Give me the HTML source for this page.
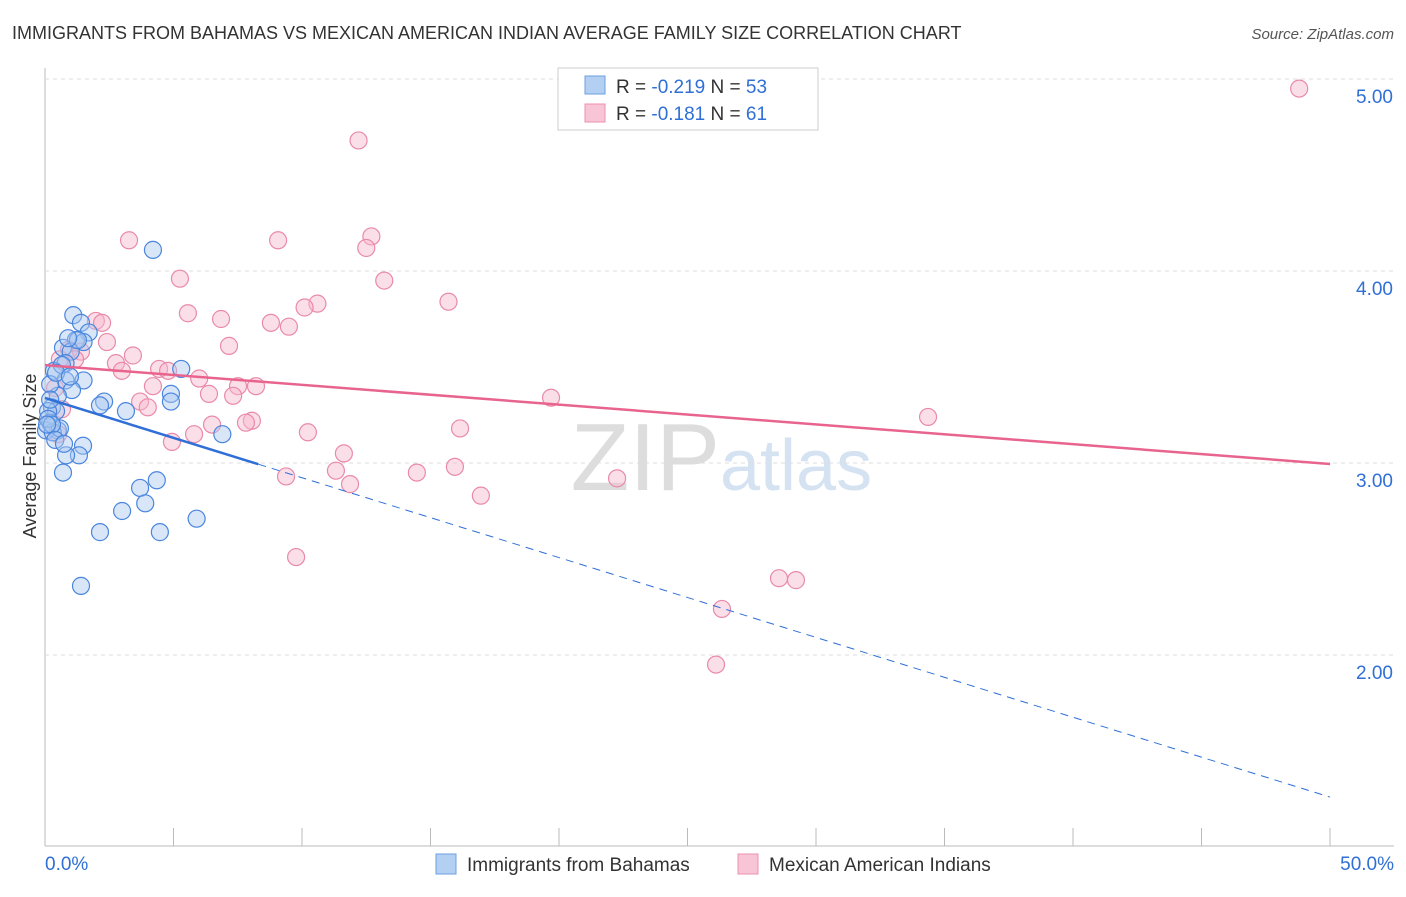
<!DOCTYPE html>
<html><head><meta charset="utf-8"><style>
body{margin:0;background:#fff;font-family:"Liberation Sans",sans-serif}
svg text{font-family:"Liberation Sans",sans-serif}
</style></head><body>
<svg id="c" width="1406" height="892">
<text x="12" y="39" font-size="18" fill="#333">IMMIGRANTS FROM BAHAMAS VS MEXICAN AMERICAN INDIAN AVERAGE FAMILY SIZE CORRELATION CHART</text>
<text x="1394" y="39" font-size="15" fill="#555" font-style="italic" text-anchor="end">Source: ZipAtlas.com</text>
<text x="36" y="456" font-size="18" fill="#333" text-anchor="middle" transform="rotate(-90 36 456)">Average Family Size</text>
<text x="720" y="490" font-size="96" fill="#ddd" text-anchor="end" font-family="Liberation Serif">ZIP</text>
<text x="720" y="490" font-size="72" fill="#d4e2f2">atlas</text>
<g id="grid"></g><g id="pts"></g><g id="lines"></g>
<g>
<rect x="558" y="68" width="260" height="62" fill="#fff" stroke="#ccc"/>
<rect x="585" y="76" width="20" height="18" fill="#b3cff2" stroke="#6e9fe0"/>
<rect x="585" y="104" width="20" height="18" fill="#f7c5d5" stroke="#ec91ae"/>
<text x="616" y="93" font-size="19" fill="#333">R = <tspan fill="#2f6fd6">-0.219</tspan>   N = <tspan fill="#2f6fd6">53</tspan></text>
<text x="616" y="120" font-size="19" fill="#333">R =  <tspan fill="#2f6fd6">-0.181</tspan>   N =  <tspan fill="#2f6fd6">61</tspan></text>
</g>
<g>
<rect x="436" y="854" width="20" height="20" fill="#b3cff2" stroke="#6e9fe0"/>
<text x="467" y="871" font-size="19" fill="#333">Immigrants from Bahamas</text>
<rect x="738" y="854" width="20" height="20" fill="#f7c5d5" stroke="#ec91ae"/>
<text x="769" y="871" font-size="19" fill="#333">Mexican American Indians</text>
</g>
</svg>
<script>
const xTicks=[0,5,10,15,20,25,30,35,40,45,50];
const yTicks=[2,3,4,5];
const blueX=[4.2,1.1,1.4,1.7,1.2,0.7,1.0,1.5,5.3,0.8,0.35,1.5,0.8,1.05,0.5,0.2,2.3,3.15,4.9,4.9,0.27,0.43,0.12,0.2,0.5,0.04,0.3,0.58,6.9,1.48,1.32,0.82,0.7,4.35,3.7,3.9,3.0,5.9,2.14,4.47,1.4,0.2,0.12,0.66,0.43,1.28,0.9,0.27,0.08,0.4,0.74,2.14,0.97];
const blueY=[4.11,3.77,3.73,3.68,3.64,3.6,3.58,3.63,3.49,3.52,3.48,3.43,3.43,3.38,3.35,3.41,3.32,3.27,3.36,3.32,3.29,3.27,3.27,3.21,3.17,3.17,3.16,3.18,3.15,3.09,3.04,3.04,2.95,2.91,2.87,2.79,2.75,2.71,2.64,2.64,2.36,3.33,3.23,3.51,3.47,3.64,3.65,3.2,3.2,3.12,3.1,3.3,3.45];
const pinkX=[48.8,12.2,3.27,9.07,12.7,12.5,5.25,13.2,15.7,10.6,10.1,5.56,6.85,1.98,2.22,8.79,9.49,2.41,7.16,0.93,1.4,3.42,1.17,2.76,2.99,4.44,4.79,6.0,4.2,8.21,7.51,6.38,7.32,19.69,3.7,4.0,34.36,6.5,8.05,7.82,16.15,10.23,5.8,4.94,11.63,15.95,11.32,14.47,9.38,22.26,11.87,16.96,9.77,28.56,29.22,26.34,26.11,0.58,0.39,0.66,0.51];
const pinkY=[4.95,4.68,4.16,4.16,4.18,4.12,3.96,3.95,3.84,3.83,3.81,3.78,3.75,3.74,3.73,3.73,3.71,3.63,3.61,3.59,3.58,3.56,3.54,3.52,3.48,3.49,3.48,3.44,3.4,3.4,3.4,3.36,3.35,3.34,3.32,3.29,3.24,3.2,3.22,3.21,3.18,3.16,3.15,3.11,3.05,2.98,2.96,2.95,2.93,2.92,2.89,2.83,2.51,2.4,2.39,2.24,1.95,3.54,3.39,3.28,3.15];
const blueFit=[3.339,1.26];
const pinkFit=[3.51,2.995];
const X=v=>45+v*25.7, Y=v=>79+(5-v)*192;
const NS="http://www.w3.org/2000/svg";
function mk(tag,attrs,parent){const e=document.createElementNS(NS,tag);for(const k in attrs)e.setAttribute(k,attrs[k]);parent.appendChild(e);return e;}
const svg=document.getElementById('c'),grid=document.getElementById('grid'),pts=document.getElementById('pts'),lines=document.getElementById('lines');
const ax=mk('line',{x1:45,y1:68,x2:45,y2:846,stroke:'#bbb'},grid);


const bx=mk('line',{x1:45,y1:846,x2:1394,y2:846,stroke:'#bbb'},grid);


yTicks.forEach(t=>{
const g=mk('line',{x1:45,y1:Y(t),x2:1394,y2:Y(t),stroke:'#ddd','stroke-dasharray':'4,4'},grid);


const l=mk('text',{x:1393,y:Y(t)+24,'font-size':19,fill:'#2f6fd6','text-anchor':'end'},grid);l.textContent=t.toFixed(2);


});
xTicks.forEach(t=>{
const m=mk('line',{x1:X(t),y1:828,x2:X(t),y2:846,stroke:'#bbb'},grid);


});
[[0,'0.0%','start',45],[50,'50.0%','end',1394]].forEach(a=>{
const l=mk('text',{x:a[3],y:870,'font-size':19,fill:'#2f6fd6','text-anchor':a[2]},grid);l.textContent=a[1];


});
function dots(xs,ys,fill,stroke,name){xs.forEach((x,i)=>{
const c=mk('circle',{cx:X(x),cy:Y(ys[i]),r:8.5,fill:fill,'fill-opacity':0.45,stroke:stroke,'stroke-width':1.2},pts);


});}
dots(pinkX,pinkY,'#f7b8cc','#e98aaa','pink-point');
dots(blueX,blueY,'#a8c8f0','#4a86de','blue-point');
const bAt=x=>blueFit[0]+(blueFit[1]-blueFit[0])*x/50;
const l1=mk('line',{x1:X(0),y1:Y(pinkFit[0]),x2:X(50),y2:Y(pinkFit[1]),stroke:'#e8648e','stroke-width':2.5},lines);


const l2=mk('line',{x1:X(0),y1:Y(bAt(0)),x2:X(8.3),y2:Y(bAt(8.3)),stroke:'#2f6fd6','stroke-width':2.5},lines);


const l3=mk('line',{x1:X(8.3),y1:Y(bAt(8.3)),x2:X(50),y2:Y(bAt(50)),stroke:'#2f6fd6','stroke-width':1,'stroke-dasharray':'8,6'},lines);


</script>
</body></html>
